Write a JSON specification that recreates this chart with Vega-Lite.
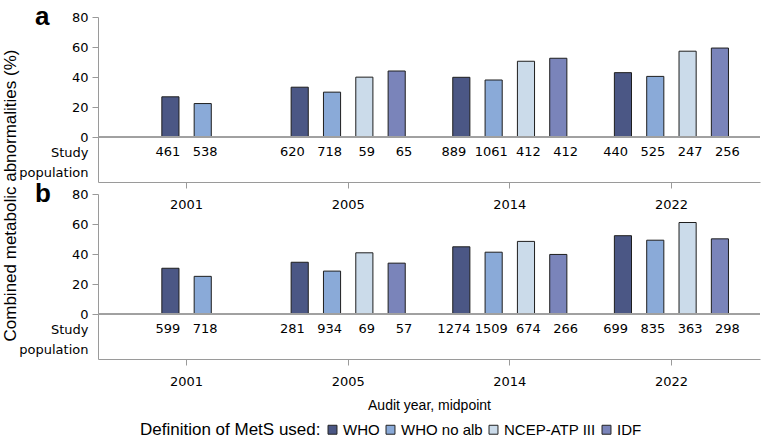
{
  "$schema": "https://vega.github.io/schema/vega-lite/v6.json",
  "padding": {"left": 0, "top": 4, "right": 0, "bottom": 0},
  "background": "white",
  "datasets": {
    "a": [
      {"year": "2001", "def": "WHO", "pct": 26.8, "n": "461"},
      {"year": "2001", "def": "WHO no alb", "pct": 22.3, "n": "538"},
      {"year": "2005", "def": "WHO", "pct": 33.2, "n": "620"},
      {"year": "2005", "def": "WHO no alb", "pct": 29.9, "n": "718"},
      {"year": "2005", "def": "NCEP-ATP III", "pct": 39.9, "n": "59"},
      {"year": "2005", "def": "IDF", "pct": 44.0, "n": "65"},
      {"year": "2014", "def": "WHO", "pct": 39.8, "n": "889"},
      {"year": "2014", "def": "WHO no alb", "pct": 38.0, "n": "1061"},
      {"year": "2014", "def": "NCEP-ATP III", "pct": 50.5, "n": "412"},
      {"year": "2014", "def": "IDF", "pct": 52.5, "n": "412"},
      {"year": "2022", "def": "WHO", "pct": 42.9, "n": "440"},
      {"year": "2022", "def": "WHO no alb", "pct": 40.4, "n": "525"},
      {"year": "2022", "def": "NCEP-ATP III", "pct": 57.2, "n": "247"},
      {"year": "2022", "def": "IDF", "pct": 59.3, "n": "256"}
    ],
    "b": [
      {"year": "2001", "def": "WHO", "pct": 30.5, "n": "599"},
      {"year": "2001", "def": "WHO no alb", "pct": 25.1, "n": "718"},
      {"year": "2005", "def": "WHO", "pct": 34.5, "n": "281"},
      {"year": "2005", "def": "WHO no alb", "pct": 28.6, "n": "934"},
      {"year": "2005", "def": "NCEP-ATP III", "pct": 40.8, "n": "69"},
      {"year": "2005", "def": "IDF", "pct": 33.9, "n": "57"},
      {"year": "2014", "def": "WHO", "pct": 44.8, "n": "1274"},
      {"year": "2014", "def": "WHO no alb", "pct": 41.2, "n": "1509"},
      {"year": "2014", "def": "NCEP-ATP III", "pct": 48.4, "n": "674"},
      {"year": "2014", "def": "IDF", "pct": 39.7, "n": "266"},
      {"year": "2022", "def": "WHO", "pct": 52.2, "n": "699"},
      {"year": "2022", "def": "WHO no alb", "pct": 49.2, "n": "835"},
      {"year": "2022", "def": "NCEP-ATP III", "pct": 61.0, "n": "363"},
      {"year": "2022", "def": "IDF", "pct": 50.1, "n": "298"}
    ]
  },
  "spacing": 12,
  "bounds": "flush",
  "vconcat": [
    {
      "width": 662,
      "height": 165,
      "data": {"name": "a"},
      "title": {"text": "a", "anchor": "start", "frame": "group", "align": "left", "dx": -63, "offset": -40, "baseline": "alphabetic", "fontSize": 26, "fontWeight": "bold", "font": "Liberation Sans", "color": "black"},
      "encoding": {
        "x": {"field": "year", "type": "nominal", "sort": null,
              "scale": {"domain": ["2001", "2005", "2014", "2022"], "paddingInner": 0.2, "paddingOuter": 0.148},
              "axis": {"title": null, "labelAngle": 0}},
        "y": {"field": "pct", "type": "quantitative",
              "scale": {"domain": [-30, 80], "nice": false, "zero": false},
              "axis": {"values": [-10, 0, 20, 40, 60, 80],
                       "labelExpr": "datum.value < 0 ? ['Study', 'population'] : datum.label",
                       "tickColor": {"condition": {"test": "datum.value < 0", "value": "transparent"}, "value": "#999999"},
                       "title": "Combined metabolic abnormalities (%)",
                       "titleX": -88, "titleY": 178, "titleAlign": "center", "titleAngle": -90, "titleBaseline": "middle"}},
        "color": {"field": "def", "type": "nominal",
                  "scale": {"domain": ["WHO", "WHO no alb", "NCEP-ATP III", "IDF"], "range": ["#4b5785", "#8aaad8", "#cbdbea", "#7a84ba"]},
                  "legend": {"title": "Definition of MetS used:", "orient": "none", "direction": "horizontal", "titleOrient": "left", "legendX": 42, "legendY": 405}}
      },
      "layer": [
        {"transform": [{"filter": "datum.year == '2001'"}],
         "mark": {"type": "bar", "stroke": "#1e1e1e", "strokeWidth": 1},
         "encoding": {
           "xOffset": {"field": "def", "scale": {"domain": ["_l", "WHO", "WHO no alb", "_r"], "paddingInner": 0.47, "paddingOuter": 0.235}},
           "y2": {"datum": 0}
         }},
        {"transform": [{"filter": "datum.year != '2001'"}],
         "mark": {"type": "bar", "stroke": "#1e1e1e", "strokeWidth": 1},
         "encoding": {
           "xOffset": {"field": "def", "scale": {"domain": ["WHO", "WHO no alb", "NCEP-ATP III", "IDF"], "paddingInner": 0.47, "paddingOuter": 0.235}},
           "y2": {"datum": 0}
         }},
        {"transform": [{"filter": "datum.year == '2001'"}],
         "mark": {"type": "text", "font": "DejaVu Sans", "fontSize": 13, "baseline": "middle", "color": "black"},
         "encoding": {
           "xOffset": {"field": "def", "scale": {"domain": ["_l", "WHO", "WHO no alb", "_r"], "paddingInner": 0.47, "paddingOuter": 0.235}},
           "y": {"datum": -10},
           "text": {"field": "n"},
           "color": {"value": "black"}
         }},
        {"transform": [{"filter": "datum.year != '2001'"}],
         "mark": {"type": "text", "font": "DejaVu Sans", "fontSize": 13, "baseline": "middle", "color": "black"},
         "encoding": {
           "xOffset": {"field": "def", "scale": {"domain": ["WHO", "WHO no alb", "NCEP-ATP III", "IDF"], "paddingInner": 0.47, "paddingOuter": 0.235}},
           "y": {"datum": -10},
           "text": {"field": "n"},
           "color": {"value": "black"}
         }},
        {"mark": {"type": "rule", "strokeWidth": 1},
         "encoding": {"y": {"datum": 0}, "x": null, "color": {"value": "#a0a0a0"}}}
      ],
      "resolve": {"scale": {"xOffset": "independent"}}
    },
    {
      "width": 662,
      "height": 165,
      "data": {"name": "b"},
      "title": {"text": "b", "anchor": "start", "frame": "group", "align": "left", "dx": -63, "offset": -40, "baseline": "alphabetic", "fontSize": 26, "fontWeight": "bold", "font": "Liberation Sans", "color": "black"},
      "encoding": {
        "x": {"field": "year", "type": "nominal", "sort": null,
              "scale": {"domain": ["2001", "2005", "2014", "2022"], "paddingInner": 0.2, "paddingOuter": 0.148},
              "axis": {"title": "Audit year, midpoint", "labelAngle": 0}},
        "y": {"field": "pct", "type": "quantitative",
              "scale": {"domain": [-30, 80], "nice": false, "zero": false},
              "axis": {"values": [-10, 0, 20, 40, 60, 80],
                       "labelExpr": "datum.value < 0 ? ['Study', 'population'] : datum.label",
                       "tickColor": {"condition": {"test": "datum.value < 0", "value": "transparent"}, "value": "#999999"},
                       "title": null}},
        "color": {"field": "def", "type": "nominal",
                  "scale": {"domain": ["WHO", "WHO no alb", "NCEP-ATP III", "IDF"], "range": ["#4b5785", "#8aaad8", "#cbdbea", "#7a84ba"]},
                  "legend": {"title": "Definition of MetS used:", "orient": "none", "direction": "horizontal", "titleOrient": "left", "legendX": 42, "legendY": 405}}
      },
      "layer": [
        {"transform": [{"filter": "datum.year == '2001'"}],
         "mark": {"type": "bar", "stroke": "#1e1e1e", "strokeWidth": 1},
         "encoding": {
           "xOffset": {"field": "def", "scale": {"domain": ["_l", "WHO", "WHO no alb", "_r"], "paddingInner": 0.47, "paddingOuter": 0.235}},
           "y2": {"datum": 0}
         }},
        {"transform": [{"filter": "datum.year != '2001'"}],
         "mark": {"type": "bar", "stroke": "#1e1e1e", "strokeWidth": 1},
         "encoding": {
           "xOffset": {"field": "def", "scale": {"domain": ["WHO", "WHO no alb", "NCEP-ATP III", "IDF"], "paddingInner": 0.47, "paddingOuter": 0.235}},
           "y2": {"datum": 0}
         }},
        {"transform": [{"filter": "datum.year == '2001'"}],
         "mark": {"type": "text", "font": "DejaVu Sans", "fontSize": 13, "baseline": "middle", "color": "black"},
         "encoding": {
           "xOffset": {"field": "def", "scale": {"domain": ["_l", "WHO", "WHO no alb", "_r"], "paddingInner": 0.47, "paddingOuter": 0.235}},
           "y": {"datum": -10},
           "text": {"field": "n"},
           "color": {"value": "black"}
         }},
        {"transform": [{"filter": "datum.year != '2001'"}],
         "mark": {"type": "text", "font": "DejaVu Sans", "fontSize": 13, "baseline": "middle", "color": "black"},
         "encoding": {
           "xOffset": {"field": "def", "scale": {"domain": ["WHO", "WHO no alb", "NCEP-ATP III", "IDF"], "paddingInner": 0.47, "paddingOuter": 0.235}},
           "y": {"datum": -10},
           "text": {"field": "n"},
           "color": {"value": "black"}
         }},
        {"mark": {"type": "rule", "strokeWidth": 1},
         "encoding": {"y": {"datum": 0}, "x": null, "color": {"value": "#a0a0a0"}}}
      ],
      "resolve": {"scale": {"xOffset": "independent"}}
    }
  ],
  "resolve": {"scale": {"color": "shared"}},
  "config": {
    "view": {"stroke": null},
    "axis": {
      "domainColor": "#9a9a9a", "tickColor": "#9a9a9a", "grid": false,
      "labelFont": "DejaVu Sans", "labelFontSize": 13, "labelColor": "black",
      "titleFont": "Liberation Sans", "titleFontWeight": "normal", "titleColor": "black"
    },
    "axisY": {"tickSize": 6, "labelPadding": 4, "labelLineHeight": 20, "titleFontSize": 17, "domainColor": "#9a9a9a"},
    "axisX": {"tickSize": 6, "labelPadding": 10, "titleFontSize": 14, "titlePadding": 10},
    "legend": {
      "titleFont": "Liberation Sans", "titleFontSize": 17, "titleFontWeight": "normal", "titleColor": "black", "titleLimit": 400,
      "labelFont": "Liberation Sans", "labelFontSize": 15, "labelColor": "black", "labelLimit": 300,
      "symbolType": "square", "symbolSize": 80, "symbolStrokeColor": "#222222", "symbolStrokeWidth": 1,
      "symbolOpacity": 1, "columnPadding": 3, "labelOffset": 3, "titlePadding": 4
    }
  }
}
